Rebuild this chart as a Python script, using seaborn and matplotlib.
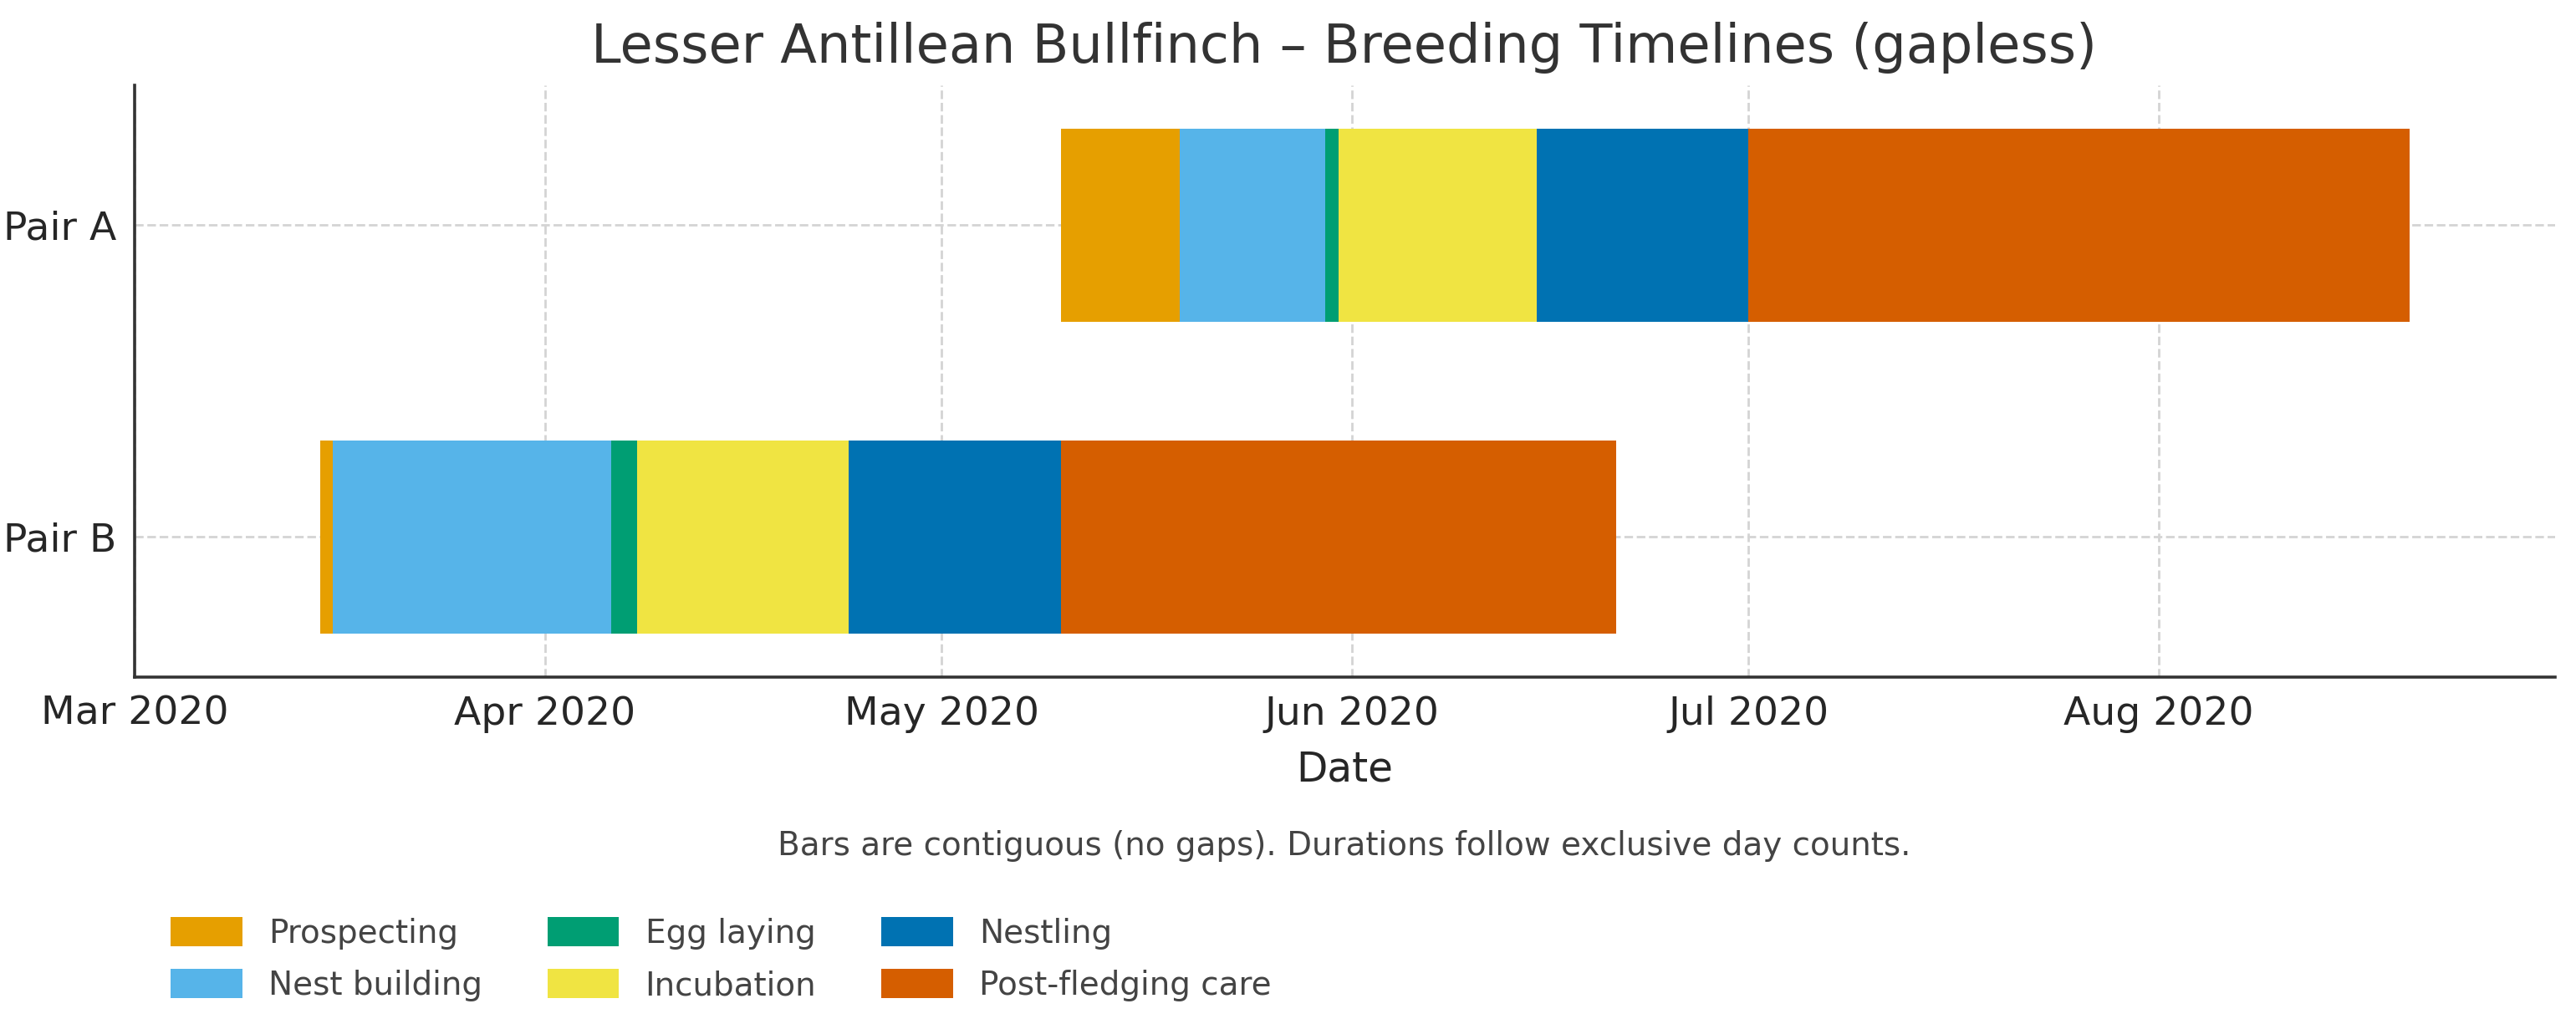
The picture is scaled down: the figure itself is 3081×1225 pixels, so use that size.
import matplotlib
matplotlib.use("Agg")
import matplotlib.pyplot as plt
import matplotlib.dates as mdates
import seaborn as sns
import pandas as pd
from matplotlib.patches import Patch

# ---- data ----
pairs = ["Pair A", "Pair B"]
phases = ["Prospecting", "Nest building", "Egg laying", "Incubation", "Nestling", "Post-fledging care"]
colors = ["#E69F00", "#56B4E9", "#009E73", "#F0E442", "#0072B2", "#D55E00"]
# phase boundaries (start of first phase ... end of last phase)
pair_a_bounds = ["2020-05-10", "2020-05-19", "2020-05-30", "2020-05-31", "2020-06-15", "2020-07-01", "2020-08-20"]
pair_b_bounds = ["2020-03-15", "2020-03-16", "2020-04-06", "2020-04-08", "2020-04-24", "2020-05-10", "2020-06-21"]
x_limits = ["2020-03-01", "2020-08-31"]

title = "Lesser Antillean Bullfinch \u2013 Breeding Timelines (gapless)"
caption = "Bars are contiguous (no gaps). Durations follow exclusive day counts."

rows = []
for pair, bounds in zip(pairs, [pair_a_bounds, pair_b_bounds]):
    b = pd.to_datetime(bounds)
    for i, ph in enumerate(phases):
        rows.append({"pair": pair, "phase": ph, "start": b[i], "end": b[i + 1]})
df = pd.DataFrame(rows)

sns.set_theme(style="white")
plt.rcParams["font.family"] = ["DejaVu Sans"]

fig = plt.figure(figsize=(15.405, 6.125), dpi=200)
ax = fig.add_axes([0.0523, 0.339, 0.9397, 0.578])

pal = dict(zip(phases, colors))
ypos = {p: i for i, p in enumerate(pairs)}
for _, r in df.iterrows():
    s = mdates.date2num(r["start"])
    e = mdates.date2num(r["end"])
    ax.barh(ypos[r["pair"]], e - s, left=s, height=0.62, color=pal[r["phase"]],
            edgecolor="none", linewidth=0, zorder=3)

ax.set_yticks(range(len(pairs)))
ax.set_yticklabels(pairs)
ax.set_ylim(1.45, -0.45)
lx = pd.to_datetime(x_limits)
ax.set_xlim(mdates.date2num(lx[0]), mdates.date2num(lx[1]))
ax.xaxis.set_major_locator(mdates.MonthLocator())
ax.xaxis.set_major_formatter(mdates.DateFormatter("%b %Y"))

ax.grid(True, linestyle="--", color="#d4d4d4", linewidth=1.0, zorder=0)
for sp in ["top", "right"]:
    ax.spines[sp].set_visible(False)
for sp in ["left", "bottom"]:
    ax.spines[sp].set_color("#333333")
    ax.spines[sp].set_linewidth(1.3)
ax.tick_params(axis="both", direction="in", length=5, width=1.2, color="#333333",
               labelsize=17, labelcolor="#262626", pad=8)
ax.set_xlabel("Date", fontsize=17.5, color="#262626", labelpad=7)
ax.set_ylabel("")

fig.suptitle(title, fontsize=23, color="#333333", x=0.5217, y=0.979)
fig.text(0.5217, 0.174, caption, ha="center", va="center", fontsize=14, color="#444444")

handles = [Patch(facecolor=c, edgecolor="none", label=p) for p, c in zip(phases, colors)]
fig.legend(handles=handles, ncol=3, loc="center left", bbox_to_anchor=(0.055, 0.063),
           frameon=False, fontsize=14, labelcolor="#444444", handlelength=2.2,
           handleheight=1.0, columnspacing=2.0, labelspacing=0.6, handletextpad=0.8)

fig.savefig("out.png", dpi=200)
